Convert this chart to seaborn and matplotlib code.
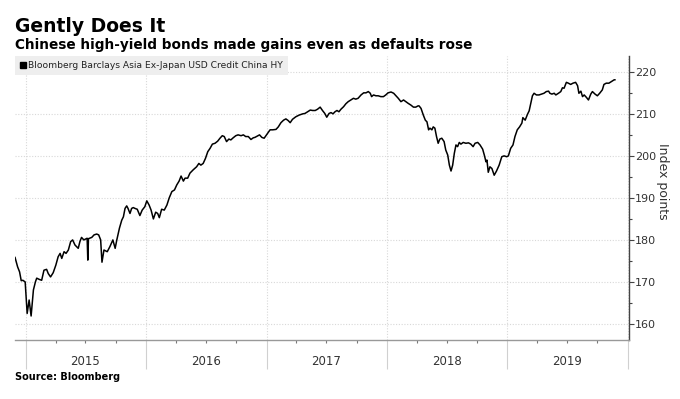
import pandas as pd
import matplotlib
matplotlib.use("Agg")
import matplotlib.pyplot as plt
import matplotlib.dates as mdates
from matplotlib.ticker import MultipleLocator, FuncFormatter
from matplotlib.lines import Line2D
import seaborn as sns

# =========================
# Data
# =========================

dates = [
    "2014-11-29", "2014-12-07", "2014-12-13", "2014-12-18", "2014-12-23", "2014-12-30",
    "2015-01-05", "2015-01-11", "2015-01-17", "2015-01-24", "2015-01-30", "2015-02-03",
    "2015-02-11", "2015-02-18", "2015-02-25", "2015-03-05", "2015-03-10", "2015-03-17",
    "2015-03-25", "2015-04-02", "2015-04-09", "2015-04-15", "2015-04-20", "2015-04-27",
    "2015-05-03", "2015-05-10", "2015-05-17", "2015-05-23", "2015-05-30", "2015-06-04",
    "2015-06-09", "2015-06-14", "2015-06-19", "2015-06-26", "2015-07-06", "2015-07-08",
    "2015-07-10", "2015-07-20", "2015-07-27", "2015-08-04", "2015-08-10", "2015-08-16",
    "2015-08-20", "2015-08-26", "2015-09-05", "2015-09-13", "2015-09-22", "2015-09-29",
    "2015-10-04", "2015-10-12", "2015-10-19", "2015-10-24", "2015-10-29", "2015-11-03",
    "2015-11-07", "2015-11-13", "2015-11-18", "2015-11-23", "2015-11-28", "2015-12-05",
    "2015-12-13", "2015-12-20", "2015-12-28",
    "2016-01-03", "2016-01-10", "2016-01-16", "2016-01-23", "2016-01-30", "2016-02-05",
    "2016-02-10", "2016-02-17", "2016-02-25", "2016-03-04", "2016-03-11", "2016-03-19",
    "2016-03-27", "2016-04-03", "2016-04-10", "2016-04-16", "2016-04-23", "2016-04-28",
    "2016-05-06", "2016-05-13", "2016-05-23", "2016-06-02", "2016-06-09", "2016-06-15",
    "2016-06-22", "2016-06-29", "2016-07-06", "2016-07-13", "2016-07-20", "2016-07-28",
    "2016-08-05", "2016-08-12", "2016-08-19", "2016-08-25", "2016-09-01", "2016-09-08",
    "2016-09-14", "2016-09-21", "2016-09-29", "2016-10-06", "2016-10-15", "2016-10-22",
    "2016-10-29", "2016-11-06", "2016-11-14", "2016-11-21", "2016-11-26", "2016-12-03",
    "2016-12-10", "2016-12-17", "2016-12-24",
    "2017-01-04", "2017-01-11", "2017-01-19", "2017-01-29", "2017-02-05", "2017-02-13",
    "2017-02-21", "2017-02-28", "2017-03-07", "2017-03-13", "2017-03-20", "2017-03-30",
    "2017-04-09", "2017-04-20", "2017-04-27", "2017-05-05", "2017-05-13", "2017-05-20",
    "2017-05-28", "2017-06-04", "2017-06-12", "2017-06-19", "2017-06-26", "2017-07-02",
    "2017-07-09", "2017-07-15", "2017-07-21", "2017-07-27", "2017-08-02", "2017-08-08",
    "2017-08-14", "2017-08-22", "2017-08-29", "2017-09-05", "2017-09-13", "2017-09-21",
    "2017-09-28", "2017-10-05", "2017-10-14", "2017-10-22", "2017-10-29", "2017-11-05",
    "2017-11-11", "2017-11-15", "2017-11-21", "2017-11-28", "2017-12-05", "2017-12-13",
    "2017-12-21", "2017-12-28",
    "2018-01-04", "2018-01-13", "2018-01-21", "2018-01-28", "2018-02-04", "2018-02-12",
    "2018-02-20", "2018-02-27", "2018-03-06", "2018-03-14", "2018-03-22", "2018-03-29",
    "2018-04-05", "2018-04-08", "2018-04-14", "2018-04-21", "2018-04-27", "2018-05-02",
    "2018-05-07", "2018-05-11", "2018-05-17", "2018-05-21", "2018-05-26", "2018-05-31",
    "2018-06-05", "2018-06-10", "2018-06-16", "2018-06-23", "2018-06-28", "2018-07-04",
    "2018-07-09", "2018-07-14", "2018-07-19", "2018-07-24", "2018-07-29", "2018-08-03",
    "2018-08-08", "2018-08-13", "2018-08-20", "2018-08-28", "2018-09-05", "2018-09-12",
    "2018-09-19", "2018-09-25", "2018-10-03", "2018-10-10", "2018-10-18", "2018-10-23",
    "2018-10-28", "2018-10-31", "2018-11-04", "2018-11-09", "2018-11-15", "2018-11-22",
    "2018-11-29", "2018-12-07", "2018-12-15", "2018-12-22", "2018-12-30",
    "2019-01-04", "2019-01-11", "2019-01-18", "2019-01-24", "2019-01-31", "2019-02-07",
    "2019-02-14", "2019-02-17", "2019-02-24", "2019-03-03", "2019-03-08", "2019-03-13",
    "2019-03-18", "2019-03-23", "2019-03-30", "2019-04-07", "2019-04-15", "2019-04-22",
    "2019-04-29", "2019-05-06", "2019-05-10", "2019-05-16", "2019-05-23", "2019-05-28",
    "2019-06-05", "2019-06-12", "2019-06-17", "2019-06-22", "2019-06-29", "2019-07-05",
    "2019-07-12", "2019-07-19", "2019-07-27", "2019-08-02", "2019-08-06", "2019-08-12",
    "2019-08-17", "2019-08-22", "2019-08-29", "2019-09-04", "2019-09-11", "2019-09-16",
    "2019-09-24", "2019-10-01", "2019-10-08", "2019-10-16", "2019-10-21", "2019-10-28",
    "2019-11-05", "2019-11-13", "2019-11-21", "2019-11-24",
]

index_points = [
    176.0, 173.7, 172.5, 170.4, 170.5, 170.1,
    162.6, 165.8, 162.0, 168.2, 170.1, 171.0,
    170.7, 170.5, 172.9, 173.1, 172.1, 171.3,
    172.3, 174.1, 176.1, 176.9, 175.7, 177.3,
    176.9, 177.7, 179.7, 180.1, 178.9, 178.5,
    178.1, 179.7, 180.7, 180.1, 180.5, 175.3,
    180.4, 180.7, 181.3, 181.5, 181.3, 180.1,
    174.8, 177.7, 177.3, 178.5, 180.1, 178.1,
    180.1, 182.9, 184.8, 185.6, 187.6, 188.2,
    187.6, 186.4, 187.6, 187.8, 187.6, 187.4,
    185.9, 187.2, 188.0,
    189.4, 188.4, 187.2, 185.1, 186.7, 186.4,
    185.4, 187.4, 187.2, 188.4, 190.1, 191.6,
    192.0, 193.2, 194.1, 195.3, 194.1, 194.8,
    194.8, 196.0, 196.8, 197.5, 198.3, 197.9,
    198.3, 199.5, 201.1, 201.9, 202.9, 203.1,
    203.6, 204.3, 204.9, 204.7, 203.5, 204.1,
    203.9, 204.4, 204.9, 205.1, 204.9, 205.1,
    204.7, 204.7, 204.0, 204.4, 204.5, 204.8,
    205.1, 204.5, 204.3,
    205.5, 206.3, 206.3, 206.4, 207.0, 208.0,
    208.6, 208.9, 208.5, 208.0, 208.8, 209.4,
    209.8, 210.1, 210.2, 210.6, 211.0, 210.9,
    210.9, 211.2, 211.7, 210.9, 210.2, 209.3,
    210.2, 210.4, 210.1, 210.6, 210.9, 210.6,
    211.2, 211.8, 212.5, 213.0, 213.4, 213.8,
    213.6, 213.8, 214.6, 215.1, 215.1, 215.4,
    215.0, 214.2, 214.6, 214.4, 214.4, 214.2,
    214.2, 214.6,
    215.1, 215.3, 215.0, 214.4, 213.8, 213.0,
    213.4, 213.0, 212.6, 212.2, 211.7, 211.7,
    212.0, 212.0, 211.4, 209.8, 208.6, 208.2,
    206.3, 206.7, 206.3, 207.0, 206.7, 204.7,
    203.1, 204.1, 204.3, 203.5, 201.5, 200.3,
    197.9, 196.5, 197.9, 200.7, 202.7, 202.3,
    203.3, 202.9, 203.3, 203.1, 203.2, 202.9,
    202.3, 203.1, 203.3, 202.7, 201.7, 200.3,
    198.7, 199.1, 196.2, 197.5, 197.1, 195.5,
    196.5, 197.9, 199.9, 200.1, 199.9,
    200.1, 201.9, 202.7, 204.7, 206.3, 207.0,
    207.9, 209.2, 208.6, 210.0, 210.8, 212.6,
    214.4, 215.0, 214.6, 214.6, 214.8, 215.0,
    215.4, 215.5, 215.0, 214.8, 215.0, 214.6,
    215.0, 215.4, 216.3, 216.2, 217.6, 217.4,
    217.1, 217.4, 217.6, 216.8, 215.0, 215.5,
    214.2, 214.6, 214.0, 213.4, 214.8, 215.4,
    214.8, 214.4, 215.0, 215.8, 217.1, 217.4,
    217.4, 217.8, 218.2, 218.2,
]

years = [2015, 2016, 2017, 2018, 2019]
y_ticks = [160, 170, 180, 190, 200, 210, 220]

series_name = "Bloomberg Barclays Asia Ex-Japan USD Credit China HY"

df = pd.DataFrame({
    "date": pd.to_datetime(dates),
    "value": index_points,
})


# =========================
# Plot
# =========================

sns.set_theme(style="white")
plt.rcParams["font.family"] = ["DejaVu Sans"]

fig, ax = plt.subplots(figsize=(6.8, 3.99), dpi=100)
fig.subplots_adjust(left=0.022, right=0.925, top=0.86, bottom=0.148)

sns.lineplot(
    data=df,
    x="date",
    y="value",
    color="black",
    linewidth=1.1,
    ax=ax
)

ax.set_xlim(pd.Timestamp("2014-11-29"), pd.Timestamp("2020-01-05"))
ax.set_ylim(156.3, 223.9)

# spines
for side in ["left", "top"]:
    ax.spines[side].set_visible(False)
ax.spines["right"].set_color("#444444")
ax.spines["right"].set_linewidth(1.0)
ax.spines["bottom"].set_color("#999999")
ax.spines["bottom"].set_linewidth(1.0)

# y axis on the right
ax.yaxis.tick_right()
ax.yaxis.set_label_position("right")
ax.set_yticks(y_ticks)
ax.yaxis.set_minor_locator(MultipleLocator(5))
ax.tick_params(axis="y", which="major", direction="out", length=3.5,
               width=0.8, color="#444444", labelsize=8,
               labelcolor="#333333", pad=1, right=True, left=False)
ax.tick_params(axis="y", which="minor", direction="out", length=2,
               width=0.8, color="#444444", right=True, left=False)
ax.set_ylabel("Index points", rotation=270, fontsize=9,
              color="#333333", va="center", ha="center")
ax.yaxis.set_label_coords(1.055, 0.56)

# x axis: year dividers + quarterly ticks, year names mid-year
ax.xaxis.set_major_locator(mdates.YearLocator())
ax.xaxis.set_major_formatter(FuncFormatter(lambda v, p: ""))
ax.xaxis.set_minor_locator(mdates.MonthLocator(bymonth=[4, 7, 10]))
ax.xaxis.set_minor_formatter(
    FuncFormatter(
        lambda v, p:
        str(mdates.num2date(v).year)
        if mdates.num2date(v).month == 7 and mdates.num2date(v).year in years
        else ""
    )
)
ax.tick_params(axis="x", which="major", direction="out", length=21,
               width=0.8, color="#d0d0d0", bottom=True)
ax.tick_params(axis="x", which="minor", direction="out", length=2.5,
               width=0.8, color="#777777", labelsize=8.5,
               labelcolor="#333333", pad=8.5, bottom=True)

ax.set_xlabel("")

# dotted grid
ax.grid(which="major", axis="both", linestyle=(0, (1, 1.5)),
        color="#d8d8d8", linewidth=0.8)

# legend box
handle = Line2D([], [], marker="s", color="black", linestyle="none",
                markersize=4.2)
leg = ax.legend(
    [handle],
    [series_name],
    loc="upper left",
    bbox_to_anchor=(0, 1.0),
    borderaxespad=0.0,
    frameon=True,
    fancybox=False,
    facecolor="#eeeeee",
    edgecolor="none",
    framealpha=1.0,
    fontsize=6.6,
    handlelength=0.6,
    handletextpad=0.25,
    borderpad=0.55,
)
for t in leg.get_texts():
    t.set_color("#222222")

# titles
fig.text(0.022, 0.92, "Gently Does It", fontsize=13.5, fontweight="bold",
         color="black", ha="left", va="baseline")
fig.text(0.022, 0.878, "Chinese high-yield bonds made gains even as defaults rose",
         fontsize=9.8, fontweight="bold", color="black", ha="left",
         va="baseline")
fig.text(0.022, 0.047, "Source: Bloomberg", fontsize=7, fontweight="bold",
         color="black", ha="left", va="baseline")

plt.savefig("out.png", dpi=100)
